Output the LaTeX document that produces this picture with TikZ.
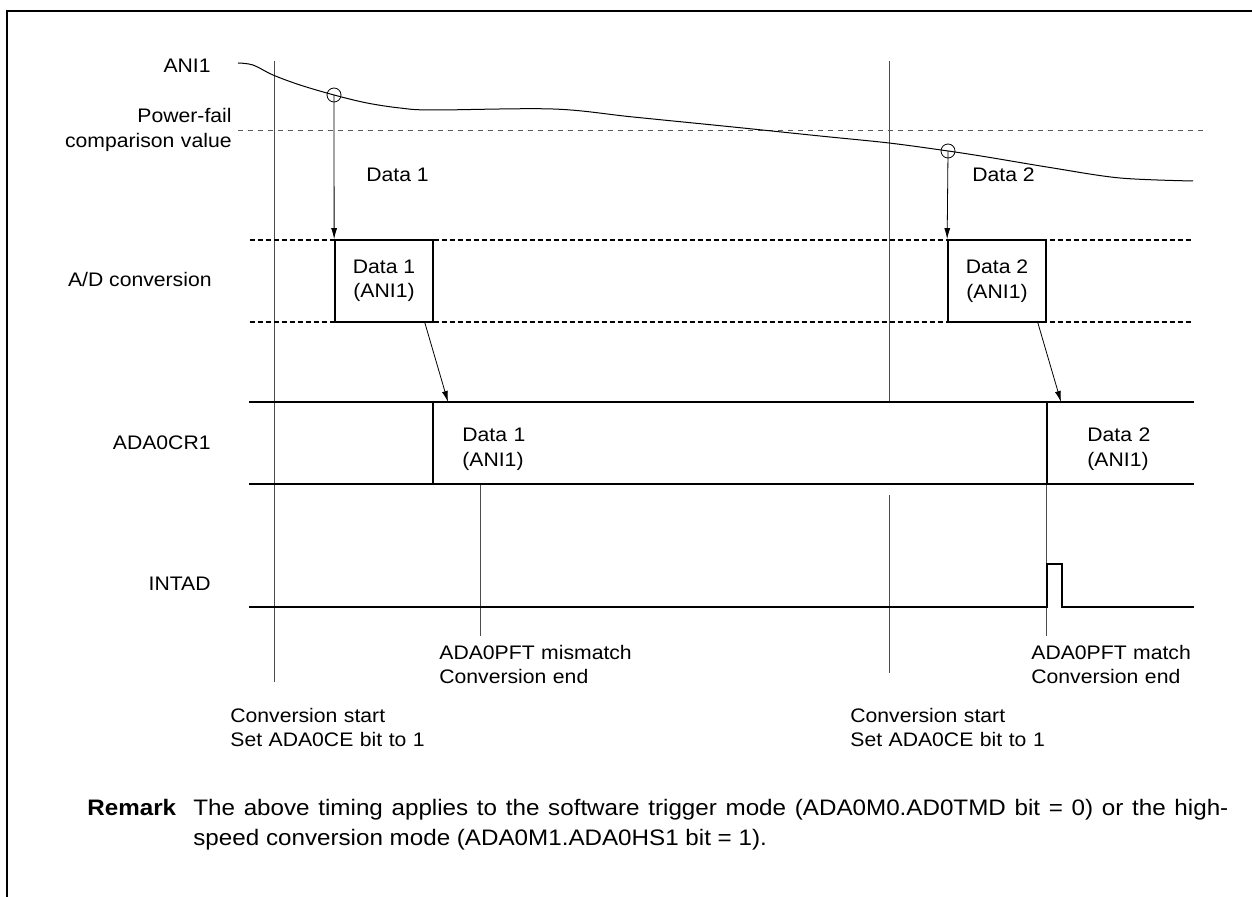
\documentclass[tikz,border=0pt]{standalone}
\usepackage{fontspec}
\setmainfont{Liberation Sans}[FakeStretch=1.08]
\usetikzlibrary{arrows.meta}
\begin{document}
\begin{tikzpicture}[x=0.5pt,y=-0.5pt,
  lbl/.style={font=\fontsize{9.8}{12.25}\selectfont, inner sep=0pt},
  lblr/.style={lbl, anchor=base east, align=right, text width=110pt},
  lbll/.style={lbl, anchor=base west, align=left, text width=120pt},
  sigline/.style={line width=0.85pt, line cap=rect},
  dline/.style={line width=0.9pt, dash pattern=on 2.5pt off 1.5pt},
  cmpline/.style={line width=0.45pt, draw=black!65, dash pattern=on 2.5pt off 2.5pt},
  guide/.style={line width=0.45pt, draw=black!70},
  arr/.style={-{Latex[length=5.5pt,width=3pt]}, line width=0.4pt},
  smp/.style={circle, draw, minimum size=7pt, inner sep=0pt, line width=0.4pt},
  databox/.style={draw, line width=0.85pt, minimum width=49pt, minimum height=41pt, inner sep=0pt, align=center, font=\fontsize{9.8}{12.25}\selectfont}]
\useasboundingbox (0,0) rectangle (1252,897);
% frame
\draw[line width=1.4pt] (7,897) -- (7,11) -- (1252,11);

% guide verticals
\draw[guide] (274,61) -- (274,682);
\draw[guide] (889,61) -- (889,402);
\draw[guide] (889,495) -- (889,673);
\draw[guide] (480,484) -- (480,636);
\draw[guide] (1046,484) -- (1046,636);

% comparison value
\draw[cmpline] (238,130) -- (1203,130);

% analog input curve
\draw[line width=0.5pt] plot[smooth, tension=0.55] coordinates {
 (238,63) (253,65) (273,75) (300,85) (334,95) (367,103) (400,108) (433,110)
 (553,109) (633,117) (733,127) (820,136) (889,143) (948,151) (987,157)
 (1053,168) (1120,178) (1193,181)};

% sampling points
\node[smp] (c1) at (334,95) {};
\node[smp] (c2) at (948,151) {};

% A/D conversion row
\draw[dline] (250,240) -- (1193,240);
\draw[dline] (250,322) -- (1193,322);
\node[databox, fill=white] (b1) at (384,281) {Data 1\\(ANI1)};
\node[databox, fill=white] (b2) at (997,281) {Data 2\\(ANI1)};
\draw[arr] (c1.center) -- (b1.north west);
\draw[arr] (c2.center) -- (b2.north west);

% ADA0CR1 row
\draw[sigline] (250,402) -- (1193,402);
\draw[sigline] (250,484) -- (1193,484);
\draw[sigline] (433,402) -- (433,484);
\draw[sigline] (1047,402) -- (1047,484);
\coordinate (r1) at (448,402);
\coordinate (r2) at (1061,402);
\draw[arr] ([xshift=-4.5pt]b1.south east) -- (r1);
\draw[arr] ([xshift=-4.5pt]b2.south east) -- (r2);

% INTAD row
\draw[sigline] (250,607) -- (1047,607) -- (1047,564) -- (1062,564) -- (1062,607) -- (1193,607);

% labels
\node[lbl, anchor=base east] (lani) at (211,73) {ANI1};
\node[lblr] (lpf) at (232,123) {Power-fail\hspace*{2.5pt}\\comparison value};
\node[lbl, anchor=base east] (lad) at (212,287) {A/D conversion};
\node[lbl, anchor=base east] (lcr) at (211,450) {ADA0CR1};
\node[lbl, anchor=base east] (lint) at (211,590) {INTAD};
\node[lbl, anchor=base west] (ld1) at (366,182) {Data 1};
\node[lbl, anchor=base west] (ld2) at (972,182) {Data 2};
\node[lbll] (lcr1) at (462,442) {Data 1\\(ANI1)};
\node[lbll] (lcr2) at (1087,442) {Data 2\\(ANI1)};
\node[lbll] (lmis) at (439,659) {ADA0PFT mismatch\\Conversion end};
\node[lbll] (lmat) at (1031,659) {ADA0PFT match\\Conversion end};
\node[lbll] (lcs1) at (230,722) {Conversion start\\Set ADA0CE bit to 1};
\node[lbll] (lcs2) at (850,722) {Conversion start\\Set ADA0CE bit to 1};

% remark
\node[font=\bfseries\fontsize{11.2}{15}\selectfont, anchor=base west, inner sep=0pt] (rmk) at (87,815) {Remark};
\node[font=\fontsize{11.2}{15}\selectfont, anchor=base west, inner sep=0pt, text width=517.5pt, align=justify] (rmktxt) at (193,815) {The above timing applies to the software trigger mode (ADA0M0.AD0TMD bit = 0) or the high-\linebreak speed conversion mode (ADA0M1.ADA0HS1 bit = 1).};
\end{tikzpicture}
\end{document}
